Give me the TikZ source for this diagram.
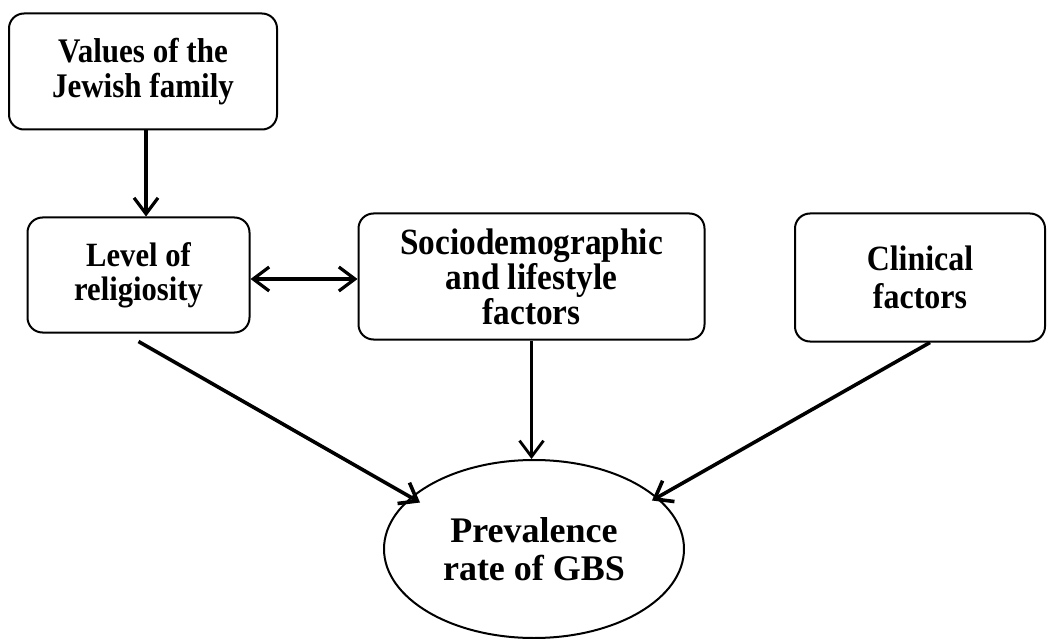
\documentclass[tikz,border=0pt]{standalone}
\usepackage{fontspec}
\setmainfont{Liberation Serif}
\newfontfamily\condfont[FakeStretch=0.9]{Liberation Serif}
\usetikzlibrary{arrows.meta,shapes.geometric}
\begin{document}
\begin{tikzpicture}[x=1pt,y=-1pt,
  box/.style={draw, line width=2pt, rounded corners=15pt, align=center, inner sep=0pt},
  barb/.tip={Straight Barb[length=16pt,width=24pt]},
  conn/.style={line width=3.2pt, -barb}]
\useasboundingbox (0,0) rectangle (1047,639);
\node[box, minimum width=268pt, minimum height=116pt, font=\condfont\bfseries\fontsize{34.5}{35}\selectfont] (val) at (143,71.5) {Values of the\\Jewish family};
\node[box, minimum width=222pt, minimum height=115pt, font=\condfont\bfseries\fontsize{34}{34}\selectfont] (lev) at (138.5,275) {Level of\\religiosity};
\node[box, minimum width=346pt, minimum height=126pt, font=\condfont\bfseries\fontsize{37}{35}\selectfont] (soc) at (531.5,276.5) {Sociodemographic\\and lifestyle\\factors};
\node[box, minimum width=250pt, minimum height=128pt, font=\condfont\bfseries\fontsize{35.5}{38}\selectfont] (cli) at (920,277.5) {Clinical\\factors};
\node[draw, ellipse, line width=2pt, minimum width=300pt, minimum height=178pt, inner sep=0pt, align=center,
  font=\bfseries\fontsize{36}{38}\selectfont] (gbs) at (534,549) {Prevalence\\rate of GBS};
\draw[conn] ([xshift=3pt]val.south) -- ([xshift=3pt]val.south |- lev.north);
\draw[line width=3.2pt, barb-barb] ([yshift=-4pt]lev.east) -- ([yshift=-4pt]lev.east -| soc.west);
\draw[conn, line width=3.6pt] ([yshift=-8pt]lev.south) -- ([xshift=11pt,yshift=-4pt]gbs.158);
\draw[conn, line width=2.8pt] (soc.south) -- (soc.south |- gbs.north);
\draw[conn, line width=3.6pt] ([xshift=10pt]cli.south) -- ([xshift=-7pt,yshift=-2pt]gbs.22);
\end{tikzpicture}
\end{document}
